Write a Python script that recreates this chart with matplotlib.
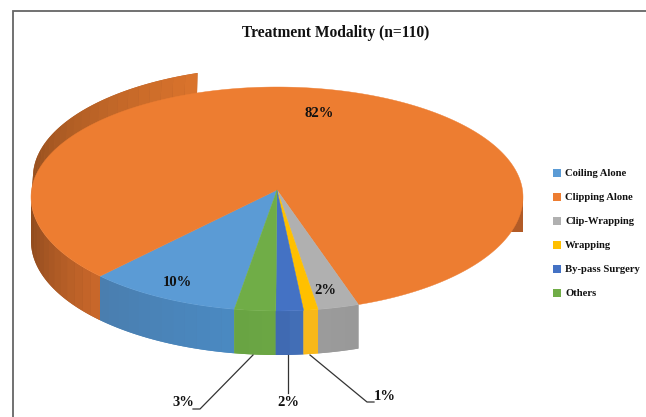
#!/usr/bin/env python3
import matplotlib
matplotlib.use("Agg")
import matplotlib.pyplot as plt
from matplotlib.colors import to_rgb
from matplotlib.patches import Polygon, Rectangle
import numpy as np

plt.rcParams['font.family'] = ['Liberation Serif', 'DejaVu Serif']
plt.rcParams['font.weight'] = 'bold'

categories = ["Coiling Alone", "Clipping Alone", "Clip-Wrapping", "Wrapping", "By-pass Surgery", "Others"]
shares = [10.0, 81.85, 2.7, 0.95, 1.8, 2.7]
pct_labels = ["10%", "82%", "2%", "1%", "2%", "3%"]
colors = ["#5B9BD5", "#ED7D31", "#B0B0B0", "#FFC000", "#4472C4", "#70AD47"]
wall_left = ["#4A7DAE", "#84461C", "#9C9C9C", "#F7B81A", "#3F68B0", "#68A343"]
wall_right = ["#4A8AC2", "#CB682A", "#989898", "#F7B81A", "#4370B8", "#6CA744"]

# Pie geometry in pixels of the picture
cx, cy = 277, 197      # middle of the ellipse
apex_y = 190           # the slices meet a little above it
rx = 246
ry_back, ry_front = 110, 114
depth = 44
start_angle = 260      # slices run clockwise from here


def rim(t_deg, shift=0.0):
    t = np.radians(t_deg)
    s = np.sin(t)
    return cx + rx * np.cos(t), cy - np.where(s > 0, ry_back, ry_front) * s + shift


def blend(c1, c2, f):
    a, b = np.array(to_rgb(c1)), np.array(to_rgb(c2))
    return tuple(a + (b - a) * f)


def band(xt, yt, xb, yb):
    return np.r_[np.c_[xt, yt], np.c_[xb[::-1], yb[::-1]]]


def draw_wall(ax, t_from, t_to, c_left, c_right):
    # vertical side of a slice: a plain base, then strips for the shading
    # t_from is the left end, t_to the right end
    ts = np.linspace(t_from, t_to, 60)
    x, y = rim(ts)
    ax.add_patch(Polygon(band(x, y, x, y + depth), fc=blend(c_left, c_right, 0.5), ec="none", zorder=2))
    n = max(int(abs(t_to - t_from) / 3), 1)
    edges = np.linspace(t_from, t_to, n + 1)
    for i in range(n):
        ts = np.linspace(edges[i], edges[i + 1], 6)
        x, y = rim(ts)
        c = blend(c_left, c_right, (i + 0.5) / n)
        ax.add_patch(Polygon(band(x, y, x, y + depth), fc=c, ec="none", zorder=2))


fig = plt.figure(figsize=(6.46, 4.17), dpi=100)
ax = fig.add_axes([0, 0, 1, 1])
ax.set_xlim(0, 646)
ax.set_ylim(417, 0)
ax.axis('off')

# frame, open on the right and at the bottom
ax.plot([13, 13, 646], [417, 11, 11], color="#666666", lw=1.3, zorder=1, solid_joinstyle='miter')

ax.text(335.5, 33, "Treatment Modality (n=110)", ha='center', va='center', fontsize=11.2, color="#111111")

# angles of the slices
spans = np.array(shares) / sum(shares) * 360
ends = start_angle - np.cumsum(spans)
starts = ends + spans

# back piece of the orange side, showing above the top on the left
ts = np.linspace(180, 109, 60)
x, y = rim(ts)
x_up = cx + (rx - 2) * np.cos(np.radians(ts))
ax.add_patch(Polygon(band(x_up, y - 20, x, y + 5), fc="#B5602A", ec="none", zorder=2))
back_edges = np.linspace(180, 109, 24)
for i in range(len(back_edges) - 1):
    ts = np.linspace(back_edges[i], back_edges[i + 1], 6)
    x, y = rim(ts)
    x_up = cx + (rx - 2) * np.cos(np.radians(ts))
    c = blend("#8F4C1E", "#D9732C", i / (len(back_edges) - 2))
    ax.add_patch(Polygon(band(x_up, y - 20, x, y + 5), fc=c, ec="none", zorder=2))

# small piece of the side on the right
ax.add_patch(Rectangle((cx + rx - 16, cy), 16, 35, fc="#B25B27", ec="none", zorder=2))

# front sides, left to right
draw_wall(ax, 180, starts[1], wall_left[1], wall_right[1])
for k in [0, 5, 4, 3, 2]:
    draw_wall(ax, ends[k], starts[k], wall_left[k], wall_right[k])

# top surface
for k in range(len(shares)):
    ts = np.linspace(starts[k], ends[k], max(int(spans[k]), 2) + 1)
    x, y = rim(ts)
    pts = np.r_[[[cx, apex_y]], np.c_[x, y]]
    ax.add_patch(Polygon(pts, fc=colors[k], ec=colors[k], lw=0.3, zorder=3))

# labels on the slices
lab_font = dict(ha='center', va='center', fontsize=10.5, color="#111111", zorder=5)
ax.text(177, 282, pct_labels[0], **lab_font)
ax.text(319, 113, pct_labels[1], **lab_font)
ax.text(325, 290, pct_labels[2], **lab_font)

# labels with leader lines below the pie
leaders = {3: ([310, 367, 374], [355, 402, 402], 385, 397),
           4: ([288, 288], [355, 393], 288, 402),
           5: ([253, 200, 193], [355, 409, 409], 183, 403)}
for k, (lx, ly, tx, ty) in leaders.items():
    ax.plot(lx, ly, color="#333333", lw=0.9, zorder=4)
    ax.text(tx, ty, pct_labels[k], **lab_font)

# legend
legend_y = [173, 197, 221, 245, 269, 293]
for name, col, ly in zip(categories, colors, legend_y):
    ax.add_patch(Rectangle((553, ly - 4), 8, 8, fc=col, ec="none", zorder=3))
    ax.text(565, ly, name, ha='left', va='center', fontsize=7.7, color="#111111")

fig.savefig("out.png", dpi=100, facecolor="white")
